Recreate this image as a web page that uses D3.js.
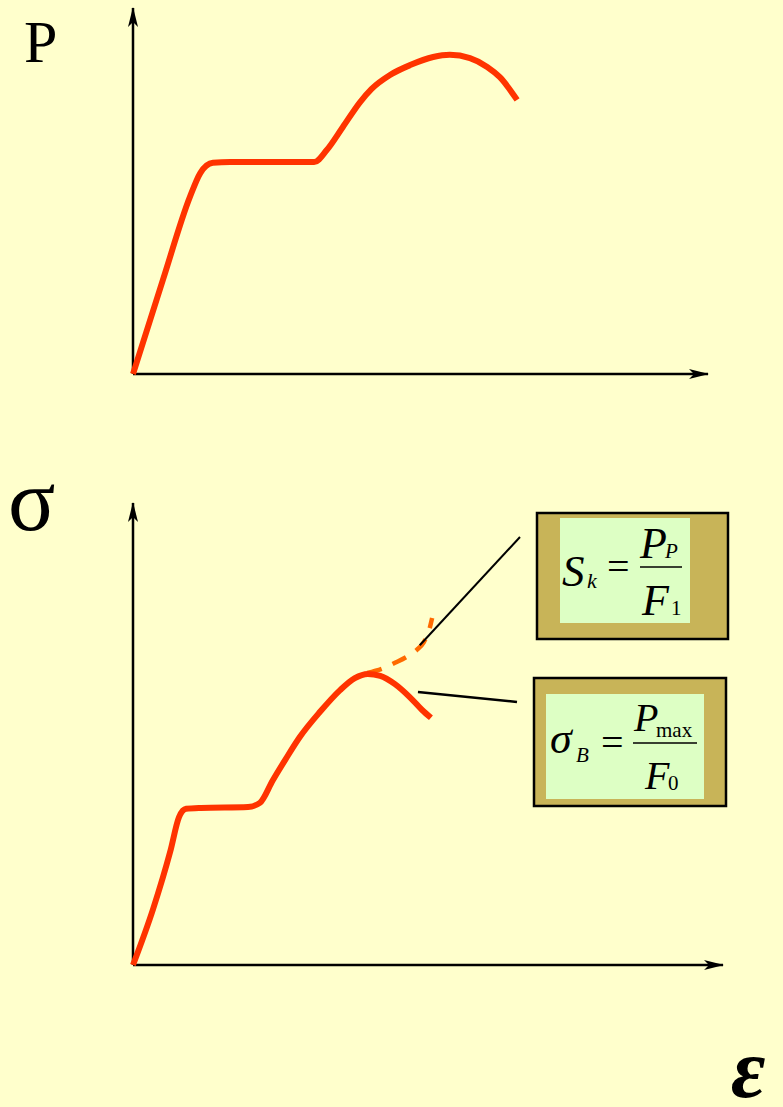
<!DOCTYPE html>
<html>
<head>
<meta charset="utf-8">
<script src="https://d3js.org/d3.v7.min.js"></script>
<style>
 body { margin: 0; background: #ffffcc; }
 svg { display: block; }
 text { font-family: "Liberation Serif", "Times New Roman", serif; }
</style>
</head>
<body>
<script>
// load-elongation diagram (top): strain, load
var strainP = [0, 5.2, 9.9, 11.7, 13.9, 16.9, 24, 31.5, 33.7, 36.5, 39.5, 41.5, 44.7, 48.2, 52.2, 55.1, 58.6, 61.6, 63.8, 66.8];
var loadP   = [0, 25.7, 48.4, 54.9, 57.7, 57.9, 57.9, 57.9, 61.2, 67.5, 74.3, 77.9, 81.7, 84.4, 86.6, 87.2, 86.3, 83.9, 81.1, 74.9];

// stress-strain diagram (bottom), engineering stress
var strainS = [0, 3.4, 6.3, 7.8, 9.0, 11.5, 19.5, 21.5, 23.7, 25.8, 28.3, 31.7, 35.1, 37.6, 39.8, 41.9, 44.4, 46.9, 49.0, 50.5];
var stressS = [0, 12.1, 24.5, 32.0, 33.8, 34.0, 34.2, 35.1, 40.0, 44.4, 49.4, 54.8, 59.5, 62.1, 63.0, 62.6, 60.8, 58.0, 55.2, 53.5];

// true stress branch (dashed)
var strainT = [39.7, 42.2, 44.4, 46.4, 48.1, 49.3, 50.2, 50.7];
var stressT = [63.2, 64.1, 65.4, 66.7, 68.2, 69.9, 72.5, 75.1];

var W = 783, H = 1107;
var red = "#ff3300", orange = "#ff6a00";

var svg = d3.select("body").append("svg")
 .attr("width", W)
 .attr("height", H);

svg.append("rect").attr("width", W).attr("height", H).attr("fill", "#ffffcc");

var defs = svg.append("defs");
defs.append("marker")
 .attr("id", "arr")
 .attr("viewBox", "0 0 20 10")
 .attr("refX", 19).attr("refY", 5)
 .attr("markerWidth", 20).attr("markerHeight", 10)
 .attr("markerUnits", "userSpaceOnUse")
 .attr("orient", "auto")
 .append("path")
 .attr("d", "M0,0 L20,5 L0,10 L5,5 Z")
 .attr("fill", "#000");

// scales
var xTop = d3.scaleLinear().domain([0, 100]).range([133, 708]);
var yTop = d3.scaleLinear().domain([0, 100]).range([374, 8]);
var xBot = d3.scaleLinear().domain([0, 100]).range([133, 723]);
var yBot = d3.scaleLinear().domain([0, 100]).range([965, 503]);

function axes(x, y) {
 svg.append("line")
  .attr("x1", x(0)).attr("y1", y(0)).attr("x2", x(0)).attr("y2", y(100))
  .attr("stroke", "#000").attr("stroke-width", 2.5).attr("marker-end", "url(#arr)");
 svg.append("line")
  .attr("x1", x(0)).attr("y1", y(0)).attr("x2", x(100)).attr("y2", y(0))
  .attr("stroke", "#000").attr("stroke-width", 2.5).attr("marker-end", "url(#arr)");
}
axes(xTop, yTop);
axes(xBot, yBot);

function curve(xs, ys, x, y) {
 return d3.line()
  .x(function(d) { return x(d); })
  .y(function(d, i) { return y(ys[i]); })
  .curve(d3.curveMonotoneX)(xs);
}

svg.append("path")
 .attr("d", curve(strainP, loadP, xTop, yTop))
 .attr("fill", "none").attr("stroke", red).attr("stroke-width", 6)
 .attr("stroke-linecap", "butt").attr("stroke-linejoin", "round");

svg.append("path")
 .attr("d", curve(strainT, stressT, xBot, yBot))
 .attr("fill", "none").attr("stroke", orange).attr("stroke-width", 4.5)
 .attr("stroke-dasharray", "15,12");

svg.append("path")
 .attr("d", curve(strainS, stressS, xBot, yBot))
 .attr("fill", "none").attr("stroke", red).attr("stroke-width", 6)
 .attr("stroke-linecap", "butt").attr("stroke-linejoin", "round");

// leader lines
svg.append("line")
 .attr("x1", xBot(48.6)).attr("y1", yBot(69.2)).attr("x2", 520).attr("y2", 537)
 .attr("stroke", "#000").attr("stroke-width", 2);
svg.append("line")
 .attr("x1", xBot(48.3)).attr("y1", yBot(59.1)).attr("x2", 517).attr("y2", 702)
 .attr("stroke", "#000").attr("stroke-width", 2.5);

// formula boxes
function box(x0, y0, w, h, ix, iy, iw, ih) {
 svg.append("rect").attr("x", x0).attr("y", y0).attr("width", w).attr("height", h)
  .attr("fill", "#c8b458").attr("stroke", "#000").attr("stroke-width", 2.5);
 svg.append("rect").attr("x", ix).attr("y", iy).attr("width", iw).attr("height", ih)
  .attr("fill", "#ddffc4");
}
box(537, 513, 191, 126, 560, 518, 130, 105);
box(534, 678, 192, 128, 546, 694, 158, 105);

var it = "italic";
function txt(x, y, s, size, style) {
 return svg.append("text").attr("x", x).attr("y", y).attr("font-size", size)
  .attr("font-style", style || "normal").attr("fill", "#000").text(s);
}

// S_k = P_P / F_1
txt(562, 586, "S", 45, it);
txt(587, 588, "k", 22, it);
txt(607, 580, "=", 40);
svg.append("line").attr("x1", 640).attr("x2", 682).attr("y1", 567).attr("y2", 567)
 .attr("stroke", "#000").attr("stroke-width", 1.6);
txt(640, 558, "P", 44, it);
txt(665, 558, "P", 21, it);
txt(642, 615, "F", 44, it);
txt(671, 615, "1", 21);

// sigma_B = P_max / F_0
txt(550, 753, "\u03c3", 44, it);
txt(576, 762, "B", 21, it);
txt(601, 756, "=", 40);
svg.append("line").attr("x1", 633).attr("x2", 697).attr("y1", 743).attr("y2", 743)
 .attr("stroke", "#000").attr("stroke-width", 1.6);
txt(634, 731, "P", 40, it);
txt(656, 737, "max", 21);
txt(645, 789, "F", 40, it);
txt(668, 790, "0", 21);

// axis names
txt(24, 62, "P", 60);
txt(8, 530, "\u03c3", 88);
svg.append("text").attr("x", 731).attr("y", 1097).attr("font-size", 84)
 .attr("font-style", "italic").attr("font-weight", "bold").text("\u03b5");
</script>
</body>
</html>
